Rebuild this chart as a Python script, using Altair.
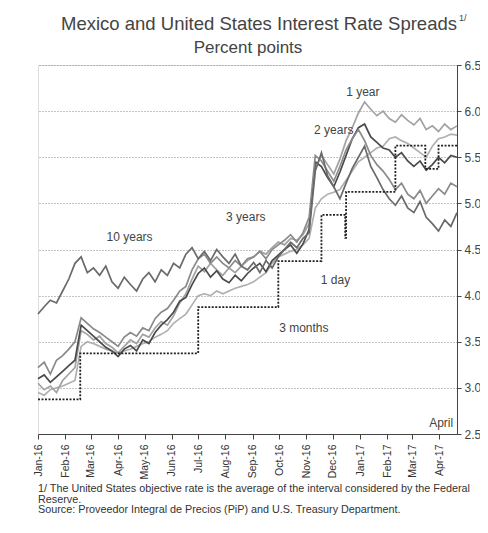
import altair as alt
import pandas as pd

# ---------------- data ----------------
series_names = ["3 months", "1 year", "2 years", "3 years", "10 years"]
week_dates = pd.date_range("2016-01-01", periods=69, freq="7D")

three_months = [2.95, 2.92, 2.98, 3.00, 3.02, 3.05, 3.08, 3.45, 3.50, 3.48, 3.45, 3.42, 3.40, 3.38, 3.40, 3.42, 3.45,
                3.48, 3.50, 3.55, 3.58, 3.62, 3.70, 3.75, 3.80, 3.90, 4.00, 4.02, 4.00, 4.05, 4.02, 4.05, 4.08, 4.10,
                4.12, 4.15, 4.20, 4.25, 4.35, 4.42, 4.45, 4.48, 4.50, 4.55, 4.62, 4.95, 5.05, 5.10, 5.12, 5.15, 5.25,
                5.35, 5.45, 5.50, 5.55, 5.60, 5.62, 5.70, 5.72, 5.68, 5.65, 5.60, 5.55, 5.50, 5.62, 5.70, 5.72, 5.75,
                5.74]
one_year = [3.05, 2.98, 3.02, 2.95, 3.08, 3.15, 3.22, 3.62, 3.58, 3.52, 3.56, 3.48, 3.44, 3.38, 3.45, 3.52, 3.48,
            3.58, 3.55, 3.65, 3.72, 3.68, 3.78, 3.92, 4.02, 4.18, 4.32, 4.26, 4.35, 4.28, 4.22, 4.30, 4.25, 4.32,
            4.38, 4.42, 4.48, 4.45, 4.52, 4.58, 4.55, 4.62, 4.60, 4.66, 4.78, 5.38, 5.52, 5.42, 5.32, 5.48, 5.68,
            5.82, 5.98, 6.10, 6.02, 5.95, 6.00, 5.92, 5.88, 5.96, 5.90, 5.85, 5.92, 5.80, 5.84, 5.78, 5.86, 5.80,
            5.84]
two_years = [3.10, 3.14, 3.06, 3.12, 3.18, 3.24, 3.30, 3.68, 3.62, 3.56, 3.50, 3.44, 3.40, 3.34, 3.42, 3.46, 3.40,
             3.52, 3.48, 3.60, 3.68, 3.74, 3.82, 3.94, 3.98, 4.12, 4.24, 4.30, 4.20, 4.27, 4.18, 4.14, 4.22, 4.16,
             4.24, 4.30, 4.35, 4.26, 4.38, 4.44, 4.50, 4.55, 4.46, 4.56, 4.72, 5.45, 5.40, 5.28, 5.18, 5.34, 5.52,
             5.70, 5.82, 5.86, 5.72, 5.66, 5.60, 5.58, 5.50, 5.55, 5.46, 5.40, 5.46, 5.36, 5.42, 5.50, 5.44, 5.52,
             5.50]
three_years = [3.22, 3.28, 3.15, 3.30, 3.35, 3.42, 3.50, 3.76, 3.70, 3.64, 3.60, 3.55, 3.50, 3.45, 3.55, 3.60, 3.56,
               3.65, 3.62, 3.75, 3.82, 3.86, 3.95, 4.05, 4.10, 4.28, 4.40, 4.45, 4.35, 4.42, 4.35, 4.30, 4.38, 4.32,
               4.40, 4.42, 4.48, 4.40, 4.50, 4.55, 4.60, 4.66, 4.58, 4.68, 4.85, 5.52, 5.46, 5.35, 5.24, 5.40, 5.58,
               5.70, 5.80, 5.68, 5.52, 5.42, 5.35, 5.26, 5.15, 5.22, 5.10, 5.05, 5.14, 5.00, 5.08, 5.16, 5.10, 5.22,
               5.18]
ten_years = [3.80, 3.88, 3.95, 3.92, 4.05, 4.18, 4.35, 4.42, 4.25, 4.30, 4.22, 4.32, 4.15, 4.08, 4.20, 4.12, 4.05,
             4.18, 4.25, 4.15, 4.28, 4.22, 4.35, 4.30, 4.45, 4.52, 4.40, 4.48, 4.38, 4.50, 4.42, 4.35, 4.45, 4.32,
             4.28, 4.36, 4.25, 4.38, 4.30, 4.42, 4.50, 4.58, 4.52, 4.62, 4.68, 5.35, 5.55, 5.30, 5.18, 5.05, 5.22,
             5.38, 5.50, 5.62, 5.40, 5.28, 5.15, 5.05, 4.98, 5.08, 4.95, 4.90, 5.02, 4.85, 4.78, 4.70, 4.82, 4.75,
             4.90]

# 1 day spread (policy rate Mexico minus midpoint of Fed target range)
day_dates = ["2016-01-01", "2016-02-18", "2016-07-01", "2016-09-30", "2016-11-18", "2016-12-15",
             "2016-12-16", "2017-02-10", "2017-03-16", "2017-03-31", "2017-04-21"]
day_values = [2.875, 3.375, 3.875, 4.375, 4.875, 4.625, 5.125, 5.625, 5.375, 5.625, 5.625]

# annotation labels
label_text = ["1 year", "2 years", "3 years", "10 years", "1 day", "3 months", "April"]
label_dates = ["2017-01-04", "2016-12-02", "2016-08-24", "2016-04-14", "2016-12-04", "2016-10-29", "2017-04-03"]
label_values = [6.21, 5.80, 4.85, 4.64, 4.17, 3.65, 2.62]

y_ticks = [2.5, 3.0, 3.5, 4.0, 4.5, 5.0, 5.5, 6.0, 6.5]

title_text = "Mexico and United States Interest Rate Spreads"
subtitle_text = "Percent points"
note_lines = [
    "1/ The United States objective rate is the average of the interval considered by the Federal",
    "Reserve.",
    "Source: Proveedor Integral de Precios (PiP) and U.S. Treasury Department.",
]

# ---------------- frames ----------------
all_series = [three_months, one_year, two_years, three_years, ten_years]
rows = []
for name, vals in zip(series_names, all_series):
    for d, v in zip(week_dates, vals):
        rows.append({"date": d, "series": name, "value": v})
df = pd.DataFrame(rows)
df_day = pd.DataFrame({"date": pd.to_datetime(day_dates), "value": day_values})
df_lab = pd.DataFrame({"date": pd.to_datetime(label_dates), "value": label_values, "label": label_text})

month_ticks = [alt.DateTime(year=2016 + i // 12, month=i % 12 + 1, date=1) for i in range(16)]

FONT = "Liberation Sans"

x_enc = alt.X(
    "date:T",
    scale=alt.Scale(domain=[alt.DateTime(year=2016, month=1, date=1),
                            alt.DateTime(year=2017, month=4, date=21)]),
    axis=alt.Axis(values=month_ticks, format="%b-%y", labelAngle=270, labelAlign="right",
                  labelBaseline="middle", grid=False, title=None, tickSize=5, tickColor="#444",
                  domainColor="#444", labelFontSize=10.5, labelColor="#333", labelPadding=5,
                  labelFont=FONT, labelOverlap=False),
)
y_enc = alt.Y(
    "value:Q",
    scale=alt.Scale(domain=[2.5, 6.5], nice=False, zero=False),
    axis=alt.Axis(orient="right", values=y_ticks, format=".1f", grid=True, gridDash=[1, 2],
                  gridColor="#888", gridWidth=1, title=None, tickSize=4, tickColor="#444",
                  domainColor="#444", labelFontSize=12, labelColor="#444", labelPadding=3,
                  labelFont=FONT),
)

lines = alt.Chart(df).mark_line(strokeWidth=1.7).encode(
    x=x_enc,
    y=y_enc,
    color=alt.Color("series:N", legend=None,
                    scale=alt.Scale(domain=series_names,
                                    range=["#b0b0b0", "#a2a2a2", "#4a4a4a", "#8a8a8a", "#6a6a6a"])),
    detail="series:N",
)

day_line = alt.Chart(df_day).mark_line(interpolate="step-after", strokeDash=[2, 1.5], strokeWidth=1.8,
                                       color="#222").encode(x=x_enc, y=y_enc)

labels = alt.Chart(df_lab).mark_text(fontSize=12, font=FONT, color="#444", align="center",
                                     baseline="middle").encode(x=x_enc, y=y_enc, text="label:N")

title_df = pd.DataFrame({"t": [title_text]})
title_mark = alt.Chart(title_df).mark_text(fontSize=18.5, font=FONT, color="#444", align="center",
                                           baseline="middle").encode(
    x=alt.value(221), y=alt.value(-41), text="t:N")
sup_df = pd.DataFrame({"t": ["1/"]})
sup_mark = alt.Chart(sup_df).mark_text(fontSize=9, font=FONT, color="#444", align="left",
                                       baseline="middle").encode(
    x=alt.value(421), y=alt.value(-47), text="t:N")
sub_df = pd.DataFrame({"t": [subtitle_text]})
sub_mark = alt.Chart(sub_df).mark_text(fontSize=17, font=FONT, color="#444", align="center",
                                       baseline="middle").encode(
    x=alt.value(210), y=alt.value(-17), text="t:N")

note_marks = []
for i, line in enumerate(note_lines):
    ndf = pd.DataFrame({"t": [line]})
    note_marks.append(
        alt.Chart(ndf).mark_text(fontSize=10.8, font=FONT, color="#333", align="left",
                                 baseline="middle").encode(
            x=alt.value(0), y=alt.value(424 + 10.5 * i), text="t:N"))

chart = alt.layer(lines, day_line, labels, title_mark, sup_mark, sub_mark, *note_marks).properties(
    width=419, height=369,
    autosize=alt.AutoSizeParams(type="none"),
    padding={"left": 30, "top": 57, "right": 23, "bottom": 86},
).configure_view(strokeWidth=0).configure(background="white")

chart.save("out.html", embed_options={"renderer": "svg", "actions": False})
